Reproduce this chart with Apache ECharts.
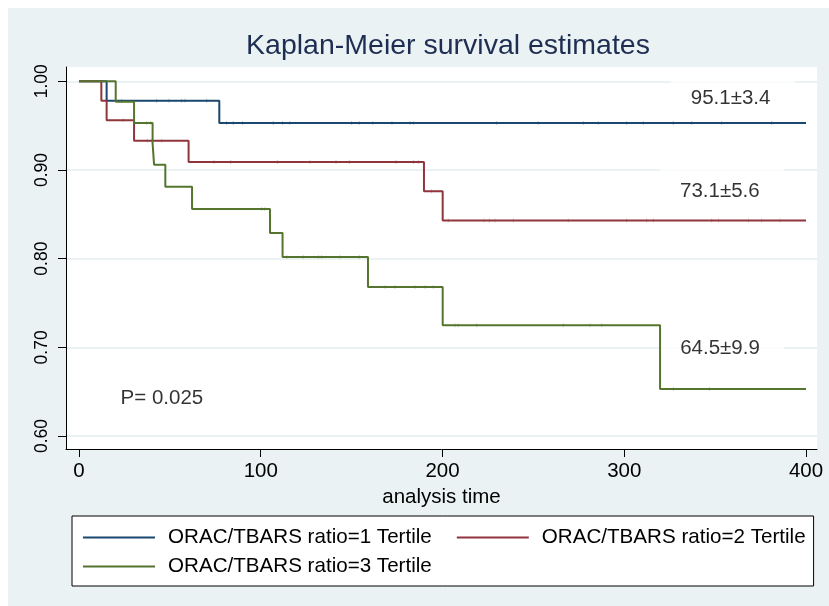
<!DOCTYPE html>
<html>
<head>
<meta charset="utf-8">
<script src="https://cdn.jsdelivr.net/npm/echarts@6/dist/echarts.min.js"></script>
<style>
  html, body { margin: 0; padding: 0; background: #ffffff; }
  #chart { width: 829px; height: 606px; }
</style>
</head>
<body>
<div id="chart"></div>
<script>
// Tick values
const xTicks = [0, 100, 200, 300, 400];
const yTicks = [0.6, 0.7, 0.8, 0.9, 1.0];

// Group names
const groupNames = [
  'ORAC/TBARS ratio=1 Tertile',
  'ORAC/TBARS ratio=2 Tertile',
  'ORAC/TBARS ratio=3 Tertile'
];

// Kaplan-Meier step points: event time and survival after the event
const t1Times = [0, 15.2, 77.2, 400];
const t1Surv  = [1.0, 0.978, 0.953, 0.953];

const t2Times = [0, 12.3, 15.2, 30.3, 60.3, 189.8, 200.1, 400];
const t2Surv  = [1.0, 0.978, 0.956, 0.933, 0.909, 0.876, 0.843, 0.843];

const t3Times = [0, 20.2, 30.3, 40.5, 41.3, 47.5, 62.2, 105.1, 112.0, 159.0, 200.1, 319.7, 400];
const t3Surv  = [1.0, 0.977, 0.953, 0.930, 0.906, 0.881, 0.856, 0.829, 0.802, 0.768, 0.725, 0.653, 0.653];

// Censoring times
const t1Censor = [23.5, 42.7, 49.5, 56.5, 58.3, 70.3, 81.2, 84.9, 90, 106.9, 112, 116, 150, 154.2,
  161.6, 172.2, 182.1, 184, 229.8, 252.7, 277.5, 285.7, 301.3, 310.5, 327, 337.1, 353.6, 381.1];
const t2Censor = [24.4, 37.6, 40, 45.5, 74.3, 83.5, 109.1, 127.1, 141.4, 148.7, 174.4, 184, 186.7,
  194, 203.2, 222.8, 225.8, 228.9, 239, 269.2, 301.3, 312.3, 316, 348.1, 351.8, 368.3, 375.6, 385.7];
const t3Censor = [37.2, 39.4, 100.5, 102.3, 114.3, 123.4, 131.7, 133.5, 143.6, 154.2, 168.4, 173.9,
  184.9, 190.4, 195, 206.9, 208.7, 218.8, 266.5, 281.2, 287.6, 327, 346.8];

// Annotation texts
const noteTexts = ['95.1±3.4', '73.1±5.6', '64.5±9.9', 'P= 0.025'];

const colors = ['#1a476f', '#90353b', '#55752f'];
const FONT = "'Liberation Sans', Arial, Helvetica, sans-serif";

function stepPoints(times, surv) {
  return times.map((t, i) => [t, surv[i]]);
}
function survAt(times, surv, t) {
  let s = surv[0];
  for (let i = 0; i < times.length; i++) {
    if (times[i] <= t) s = surv[i];
  }
  return s;
}
function censorPoints(times, surv, cens) {
  return cens.map(t => [t, survAt(times, surv, t)]);
}

const curves = [
  { times: t1Times, surv: t1Surv, cens: t1Censor },
  { times: t2Times, surv: t2Surv, cens: t2Censor },
  { times: t3Times, surv: t3Surv, cens: t3Censor }
];

// where each annotation sits, in axis units
const notePlaces = [[359.6, 0.981], [353.7, 0.876], [353.8, 0.699], [45.6, 0.643]];

const series = [];
curves.forEach((c, i) => {
  series.push({
    name: groupNames[i],
    type: 'line',
    step: 'end',
    data: stepPoints(c.times, c.surv),
    showSymbol: false,
    symbol: 'none',
    lineStyle: { color: colors[i], width: 2 },
    itemStyle: { color: colors[i] },
    z: 3 + i
  });
  series.push({
    name: groupNames[i] + ' censored',
    type: 'scatter',
    data: censorPoints(c.times, c.surv, c.cens),
    symbol: 'rect',
    symbolSize: [1, 4],
    itemStyle: { color: colors[i], opacity: 0.3 },
    z: 3 + i
  });
});

series.push({
  name: 'notes',
  type: 'scatter',
  symbolSize: 0,
  z: 2,
  data: notePlaces.map((p, i) => ({
    value: p,
    label: {
      show: true,
      position: 'inside',
      formatter: noteTexts[i],
      fontFamily: FONT,
      fontSize: 20.5,
      color: '#000000',
      backgroundColor: '#ffffff',
      padding: i === 3 ? [4, 6] : [13, 24, 13, 20]
    }
  })),
  silent: true
});

const chart = echarts.init(document.getElementById('chart'), null, { renderer: 'canvas' });

const legendText = { fontFamily: FONT, fontSize: 20.6, color: '#000000', padding: [0, 0, 0, 8] };

chart.setOption({
  animation: false,
  backgroundColor: '#ffffff',
  graphic: [{
    type: 'rect',
    z: -10,
    shape: { x: 8, y: 8, width: 821, height: 598 },
    style: { fill: '#eaf2f3' }
  }],
  title: {
    text: 'Kaplan-Meier survival estimates',
    left: 443,
    top: 27,
    textAlign: 'center',
    textStyle: { fontFamily: FONT, fontSize: 28.5, fontWeight: 'normal', color: '#1e2d52' }
  },
  grid: {
    left: 66, right: 12, top: 67, bottom: 157,
    show: true, backgroundColor: '#ffffff', borderWidth: 0
  },
  xAxis: {
    type: 'value',
    min: -7.15,
    max: 406.05,
    name: 'analysis time',
    nameLocation: 'middle',
    nameGap: 35,
    nameTextStyle: { fontFamily: FONT, fontSize: 20.5, color: '#000000' },
    axisLine: { show: true, onZero: false, lineStyle: { color: '#000000', width: 1 } },
    axisTick: { show: true, length: 8, customValues: xTicks, lineStyle: { color: '#000000' } },
    axisLabel: { customValues: xTicks, margin: 12, fontFamily: FONT, fontSize: 20.5, color: '#000000' },
    splitLine: { show: false }
  },
  yAxis: {
    type: 'value',
    min: 0.5854,
    max: 1.0161,
    axisLine: { show: true, onZero: false, lineStyle: { color: '#000000', width: 1 } },
    axisTick: { show: true, length: 8, customValues: yTicks, lineStyle: { color: '#000000' } },
    axisLabel: {
      customValues: yTicks, rotate: 90, margin: 15,
      fontFamily: FONT, fontSize: 17.5, color: '#000000',
      formatter: v => v.toFixed(2)
    },
    splitLine: { show: true, lineStyle: { color: '#eaf2f3', width: 2 } }
  },
  legend: [{
    data: groupNames.slice(0, 2),
    left: 72,
    top: 516,
    orient: 'horizontal',
    icon: 'rect',
    itemWidth: 72,
    itemHeight: 2,
    itemGap: 25,
    padding: [11, 8, 38, 11],
    backgroundColor: '#ffffff',
    borderColor: '#000000',
    borderWidth: 1,
    borderRadius: 0,
    selectedMode: false,
    textStyle: legendText
  }, {
    data: groupNames.slice(2),
    left: 83,
    top: 556,
    orient: 'horizontal',
    icon: 'rect',
    itemWidth: 72,
    itemHeight: 2,
    padding: 0,
    selectedMode: false,
    textStyle: legendText
  }],
  series: series
});
</script>
</body>
</html>
